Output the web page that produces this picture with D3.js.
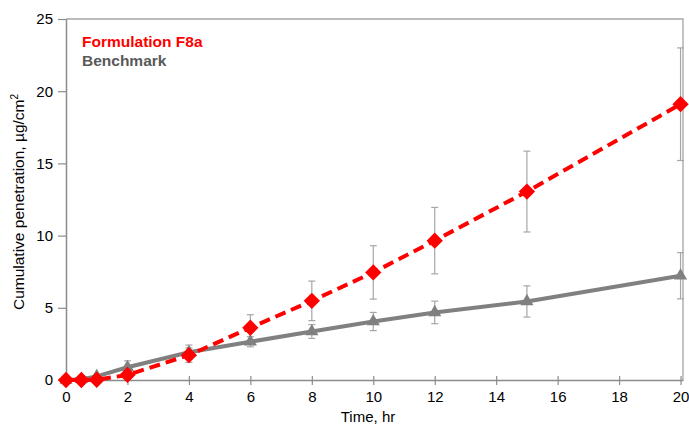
<!DOCTYPE html>
<html>
<head>
<meta charset="utf-8">
<script src="https://cdn.jsdelivr.net/npm/d3@7"></script>
<style>
  body { margin: 0; background: #fff; }
  text { font-family: "Liberation Sans", Arial, sans-serif; }
</style>
</head>
<body>
<div id="chart"></div>
<script>
// time points (hr)
var times = [0, 0.5, 1, 2, 4, 6, 8, 10, 12, 15, 20];
// Formulation F8a
var f8a = [0, 0, 0.02, 0.35, 1.72, 3.62, 5.48, 7.45, 9.65, 13.05, 19.1];
var f8aErr = [0, 0, 0.05, 0.3, 0.5, 0.9, 1.37, 1.85, 2.3, 2.8, 3.9];
// Benchmark
var bench = [0, 0.05, 0.25, 0.88, 1.92, 2.65, 3.36, 4.05, 4.68, 5.44, 7.22];
var benchErr = [0, 0.03, 0.12, 0.45, 0.5, 0.35, 0.48, 0.63, 0.78, 1.08, 1.6];
var xTicks = [0, 2, 4, 6, 8, 10, 12, 14, 16, 18, 20];
var yTicks = [0, 5, 10, 15, 20, 25];

var W = 689, H = 428;
var margin = {top: 19, right: 6, bottom: 48, left: 66};

var svg = d3.select("#chart").append("svg")
    .attr("width", W)
    .attr("height", H);

var x = d3.scaleLinear().domain([0, 20.08]).range([margin.left, W - margin.right]);
var y = d3.scaleLinear().domain([0, 25]).range([H - margin.bottom, margin.top]);

var axisColor = "#8c8c8c";

// frame (top + right)
svg.append("path")
    .attr("d", "M" + x(0) + "," + y(25) + "H" + x.range()[1] + "V" + y(0))
    .attr("fill", "none")
    .attr("stroke", "#a6a6a6")
    .attr("stroke-width", 1.3);

// x axis
var xAxis = svg.append("g")
    .attr("transform", "translate(0," + y(0) + ")")
    .call(d3.axisBottom(x).tickValues(xTicks).tickSizeInner(5).tickSizeOuter(0).tickPadding(6));
xAxis.selectAll(".tick line").attr("y1", -4);

// y axis
var yAxis = svg.append("g")
    .attr("transform", "translate(" + x(0) + ",0)")
    .call(d3.axisLeft(y).tickValues(yTicks).tickSizeInner(8).tickSizeOuter(0).tickPadding(5));

[xAxis, yAxis].forEach(function(a) {
  a.select(".domain").attr("stroke", axisColor).attr("stroke-width", 1.5);
  a.selectAll(".tick line").attr("stroke", axisColor).attr("stroke-width", 1.2);
  a.selectAll(".tick text").attr("fill", "#000").style("font-size", "15px")
    .style("font-family", "'Liberation Sans', Arial, sans-serif");
});

// axis titles
svg.append("text")
    .attr("x", 368)
    .attr("y", 422)
    .attr("text-anchor", "middle")
    .style("font-size", "15px")
    .text("Time, hr");

var yl = svg.append("text")
    .attr("transform", "translate(24,202) rotate(-90)")
    .attr("text-anchor", "middle")
    .style("font-size", "15.5px");
yl.append("tspan").text("Cumulative penetration, µg/cm");
yl.append("tspan").attr("dy", -6).style("font-size", "10px").text("2");

var series = [
  {name: "Formulation F8a", vals: f8a, err: f8aErr, color: "#ff0000", dash: "11,6", marker: d3.symbolDiamond2, size: 170},
  {name: "Benchmark", vals: bench, err: benchErr, color: "#808080", dash: null, marker: d3.symbolTriangle, size: 75}
];

var line = d3.line()
    .x(function(d) { return x(d.t); })
    .y(function(d) { return y(d.v); });

// error bars under lines
series.slice().reverse().forEach(function(s) {
  var data = times.map(function(t, i) { return {t: t, v: s.vals[i], e: s.err[i]}; });

  var eb = svg.append("g");
  data.filter(function(d) { return d.e > 0.08; }).forEach(function(d) {
    var cx = x(d.t);
    eb.append("line")
      .attr("x1", cx).attr("x2", cx)
      .attr("y1", y(d.v - d.e)).attr("y2", y(d.v + d.e))
      .attr("stroke", "#a6a6a6").attr("stroke-width", 1.2);
    [d.v - d.e, d.v + d.e].forEach(function(v) {
      eb.append("line")
        .attr("x1", cx - 3.5).attr("x2", cx + 3.5)
        .attr("y1", y(v)).attr("y2", y(v))
        .attr("stroke", "#a6a6a6").attr("stroke-width", 1.2);
    });
  });
});

series.slice().reverse().forEach(function(s) {
  var data = times.map(function(t, i) { return {t: t, v: s.vals[i]}; });

  svg.append("path")
    .datum(data)
    .attr("fill", "none")
    .attr("stroke", s.color)
    .attr("stroke-width", 4)
    .attr("stroke-dasharray", s.dash)
    .attr("d", line);

  svg.append("g").selectAll("path")
    .data(data)
    .join("path")
      .attr("transform", function(d) { return "translate(" + x(d.t) + "," + y(d.v) + ")"; })
      .attr("d", d3.symbol().type(s.marker).size(s.size))
      .attr("fill", s.color);
});

// legend
var legend = svg.append("g");
legend.append("text")
    .attr("x", 82).attr("y", 47)
    .attr("fill", "#ff0000")
    .style("font-size", "15.5px").style("font-weight", "bold")
    .text("Formulation F8a");
legend.append("text")
    .attr("x", 82).attr("y", 66)
    .attr("fill", "#595959")
    .style("font-size", "15.5px").style("font-weight", "bold")
    .text("Benchmark");
</script>
</body>
</html>
